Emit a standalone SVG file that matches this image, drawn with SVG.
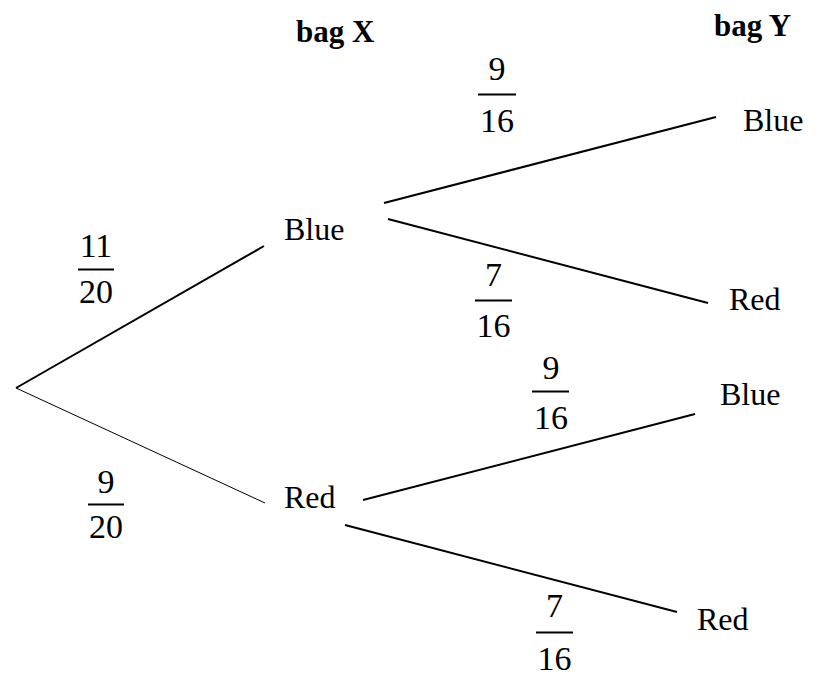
<svg xmlns="http://www.w3.org/2000/svg" width="821" height="684" viewBox="0 0 821 684">
<rect width="821" height="684" fill="#fff"/>
<g id="headers">
<text x="296" y="42" font-family="Liberation Serif" font-size="31" font-weight="bold">bag X</text>
<text x="714" y="36" font-family="Liberation Serif" font-size="31" font-weight="bold">bag Y</text>
</g>
<g id="connectors" stroke="#000" stroke-width="2" fill="none">
<line x1="16" y1="388" x2="264" y2="246"/>
<line x1="16" y1="388" x2="265" y2="503" stroke-width="1"/>
<line x1="384" y1="203" x2="716" y2="117"/>
<line x1="388" y1="219" x2="708" y2="303"/>
<line x1="363" y1="500" x2="695" y2="414"/>
<line x1="345" y1="525" x2="677" y2="612"/>
</g>
<g id="node-x-blue"><text x="284" y="240" font-family="Liberation Serif" font-size="32">Blue</text></g>
<g id="node-x-red"><text x="284" y="508" font-family="Liberation Serif" font-size="32">Red</text></g>
<g id="node-y-blue1"><text x="743" y="131" font-family="Liberation Serif" font-size="32">Blue</text></g>
<g id="node-y-red1"><text x="729" y="310" font-family="Liberation Serif" font-size="32">Red</text></g>
<g id="node-y-blue2"><text x="720" y="405" font-family="Liberation Serif" font-size="32">Blue</text></g>
<g id="node-y-red2"><text x="697" y="630" font-family="Liberation Serif" font-size="32">Red</text></g>
<g id="prob-11-20">
<text x="96" y="257" font-family="Liberation Serif" font-size="34" text-anchor="middle">11</text>
<line x1="78" y1="269.5" x2="114" y2="269.5" stroke="#000" stroke-width="2"/>
<text x="96" y="303" font-family="Liberation Serif" font-size="34" text-anchor="middle">20</text>
</g>
<g id="prob-9-20">
<text x="106" y="492.5" font-family="Liberation Serif" font-size="34" text-anchor="middle">9</text>
<line x1="88" y1="504.5" x2="124" y2="504.5" stroke="#000" stroke-width="2"/>
<text x="106" y="538" font-family="Liberation Serif" font-size="34" text-anchor="middle">20</text>
</g>
<g id="prob-9-16-a">
<text x="497" y="80" font-family="Liberation Serif" font-size="34" text-anchor="middle">9</text>
<line x1="478" y1="94.5" x2="516" y2="94.5" stroke="#000" stroke-width="2"/>
<text x="497" y="131.5" font-family="Liberation Serif" font-size="34" text-anchor="middle">16</text>
</g>
<g id="prob-7-16-a">
<text x="493.5" y="286" font-family="Liberation Serif" font-size="34" text-anchor="middle">7</text>
<line x1="475" y1="300.5" x2="512" y2="300.5" stroke="#000" stroke-width="2"/>
<text x="493.5" y="336.5" font-family="Liberation Serif" font-size="34" text-anchor="middle">16</text>
</g>
<g id="prob-9-16-b">
<text x="551" y="379" font-family="Liberation Serif" font-size="34" text-anchor="middle">9</text>
<line x1="532" y1="391.5" x2="569" y2="391.5" stroke="#000" stroke-width="2"/>
<text x="551" y="429" font-family="Liberation Serif" font-size="34" text-anchor="middle">16</text>
</g>
<g id="prob-7-16-b">
<text x="554.5" y="616.5" font-family="Liberation Serif" font-size="34" text-anchor="middle">7</text>
<line x1="536" y1="632.5" x2="573" y2="632.5" stroke="#000" stroke-width="2"/>
<text x="554.5" y="670" font-family="Liberation Serif" font-size="34" text-anchor="middle">16</text>
</g>
</svg>
